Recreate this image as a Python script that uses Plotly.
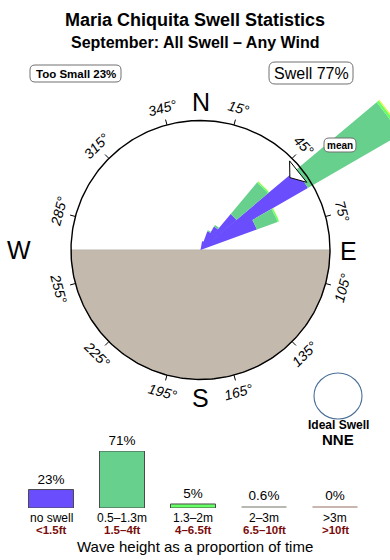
import numpy as np
import plotly.graph_objects as go

# ---------------- data ----------------
# swell-rose direction bins (bearing of bin centre, degrees) and stacked segment lengths
dir_centers = [15, 25, 35, 45, 55, 65]
bin_width = 10
seg_no_swell = [9, 20, 27, 47, 124, 60]      # <0.5 m
seg_small = [0, 1, 2, 41, 106, 22]            # 0.5-1.3 m
seg_mid = [0, 0, 0, 1.5, 2.5, 1.5]            # 1.3-2 m
seg_big = [0, 0, 0, 0.5, 1.2, 0.5]            # 2-3 m
mean_dir = 51

# wave-height distribution
height_cats = ["no swell", "0.5\u20131.3m", "1.3\u20132m", "2\u20133m", ">3m"]
height_ft = ["<1.5ft", "1.5\u20134ft", "4\u20136.5ft", "6.5\u201310ft", ">10ft"]
height_pct = [23, 71, 5, 0.6, 0]

tick_degs = [15, 45, 75, 105, 135, 165, 195, 225, 255, 285, 315, 345]

title = "Maria Chiquita Swell Statistics"
subtitle = "September: All Swell \u2013 Any Wind"
too_small_txt = "Too Small 23%"
swell_txt = "Swell 77%"
ideal_dir = "NNE"

# ---------------- styling ----------------
W, H = 390, 560
CX, CY = 200.5, 250.0          # rose centre (pixels)
R_CIRCLE = 129.5
FONT = "Liberation Sans, Arial, sans-serif"
C_PURPLE = "#6a4dfc"
C_GREEN = "#66d08c"
C_LIME = "#66ff66"
C_YELLOW = "#e6f24a"
C_LAND = "#c4b9ad"


def pol(r, deg):
    t = np.radians(deg)
    return r * np.sin(t), r * np.cos(t)


def sector(theta_c, r0, r1, width):
    th = np.linspace(theta_c - width / 2, theta_c + width / 2, 16)
    xo, yo = pol(r1, th)
    xi, yi = pol(r0, th[::-1])
    return list(xo) + list(xi) + [None], list(yo) + list(yi) + [None]


fig = go.Figure()

# land half disc (south half)
th_land = np.linspace(90, 270, 181)
lx, ly = pol(R_CIRCLE, th_land)
fig.add_trace(go.Scatter(x=list(lx) + [lx[0]], y=list(ly) + [ly[0]], fill="toself",
                         fillcolor=C_LAND, mode="lines", line=dict(color="#b9b3ab", width=1),
                         hoverinfo="skip", showlegend=False))

# stacked wedges
layers = [(seg_no_swell, C_PURPLE), (seg_small, C_GREEN), (seg_mid, C_LIME), (seg_big, C_YELLOW)]
base = np.zeros(len(dir_centers))
for seg, col in layers:
    xs, ys = [], []
    for i, d in enumerate(dir_centers):
        if seg[i] > 0:
            sx, sy = sector(d, base[i], base[i] + seg[i], bin_width)
            xs += sx
            ys += sy
    base = base + np.array(seg, dtype=float)
    if xs:
        fig.add_trace(go.Scatter(x=xs, y=ys, fill="toself", fillcolor=col, mode="lines",
                                 line=dict(width=0, color=col), hoverinfo="skip", showlegend=False))

# circle outline
th_c = np.linspace(0, 360, 361)
cx_, cy_ = pol(R_CIRCLE, th_c)
fig.add_trace(go.Scatter(x=cx_, y=cy_, mode="lines", line=dict(color="black", width=1.4),
                         hoverinfo="skip", showlegend=False))

# tick marks
tx, ty = [], []
for d in tick_degs:
    x0, y0 = pol(R_CIRCLE, d)
    x1, y1 = pol(R_CIRCLE + 5.5, d)
    tx += [x0, x1, None]
    ty += [y0, y1, None]
fig.add_trace(go.Scatter(x=tx, y=ty, mode="lines", line=dict(color="black", width=1),
                         hoverinfo="skip", showlegend=False))

# mean arrow
ax_, ay_ = [], []
for r, d in [(115, mean_dir), (126, mean_dir + 6.5), (126, mean_dir - 6), (115, mean_dir)]:
    px, py = pol(r, d)
    ax_.append(px)
    ay_.append(py)
fig.add_trace(go.Scatter(x=ax_, y=ay_, fill="toself", fillcolor="white", mode="lines",
                         line=dict(color="black", width=1), hoverinfo="skip", showlegend=False))

annotations = []
# tick labels
for d in tick_degs:
    px, py = pol(147, d)
    ang = d if (d <= 90 or d >= 270) else d - 180
    if ang > 180:
        ang -= 360
    annotations.append(dict(x=px, y=py, xref="x", yref="y", text=f"{d}\u00b0", showarrow=False,
                            textangle=ang, font=dict(family=FONT, size=14, color="black", style="italic"),
                            xanchor="center", yanchor="middle"))

# compass letters
for txt, (px, py) in [("N", (0, 148)), ("E", (147.5, -1)), ("S", (0, -148)), ("W", (-181.5, 0))]:
    annotations.append(dict(x=px, y=py, xref="x", yref="y", text=txt, showarrow=False,
                            font=dict(family=FONT, size=25, color="black"),
                            xanchor="center", yanchor="middle"))

# rounded boxes
def rounded(x0, y0, x1, y1, r):
    return (f"M{x0+r},{y0} L{x1-r},{y0} Q{x1},{y0} {x1},{y0+r} L{x1},{y1-r} Q{x1},{y1} {x1-r},{y1} "
            f"L{x0+r},{y1} Q{x0},{y1} {x0},{y1-r} L{x0},{y0+r} Q{x0},{y0} {x0+r},{y0} Z")


def px2d(xp, yp):
    return xp - CX, CY - yp


shapes = []
for (xa, ya, xb, yb, rr) in [(30, 65, 121, 82, 5), (269, 62, 353, 84, 6), (324, 138, 356, 152, 5)]:
    dx0, dy0 = px2d(xa, yb)
    dx1, dy1 = px2d(xb, ya)
    shapes.append(dict(type="path", xref="x", yref="y", path=rounded(dx0, dy0, dx1, dy1, rr),
                       line=dict(color="#707070", width=1), fillcolor="white", layer="above"))

# ideal swell circle
ic = px2d(338, 396)
shapes.append(dict(type="circle", xref="x", yref="y", x0=ic[0] - 24, x1=ic[0] + 24,
                   y0=ic[1] - 23, y1=ic[1] + 23, line=dict(color="#4a6f98", width=1.1)))

for txt, (xp, yp), size, bold in [(too_small_txt, (75.5, 73.5), 11.5, True),
                                   (swell_txt, (311, 73), 16, False),
                                   ("mean", (340, 145), 10, True),
                                   ("Ideal Swell", (338, 425), 12, True),
                                   (ideal_dir, (338, 439.5), 15, True)]:
    dx, dy = px2d(xp, yp)
    annotations.append(dict(x=dx, y=dy, xref="x", yref="y", text=txt, showarrow=False,
                            font=dict(family=FONT, size=size, color="black",
                                      weight="bold" if bold else "normal"),
                            xanchor="center", yanchor="middle"))

# titles
annotations.append(dict(x=0.5, y=1 - 20 / H, xref="paper", yref="paper", text=f"<b>{title}</b>",
                        showarrow=False, font=dict(family=FONT, size=18, color="black"),
                        xanchor="center", yanchor="middle"))
annotations.append(dict(x=0.5, y=1 - 43 / H, xref="paper", yref="paper", text=f"<b>{subtitle}</b>",
                        showarrow=False, font=dict(family=FONT, size=16, color="black"),
                        xanchor="center", yanchor="middle"))

# ---------------- wave height bars ----------------
bar_colors = [C_PURPLE, C_GREEN, C_LIME, "#b9b9b1", "#c9b6b0"]
line_w = [1, 1, 1, 0, 0]
display_h = [max(v, 1.8) for v in height_pct]
fig.add_trace(go.Bar(x=height_cats, y=display_h, xaxis="x2", yaxis="y2", width=0.634,
                     marker=dict(color=bar_colors, line=dict(color="#4a4a4a", width=line_w)),
                     text=[f"{v:g}%" for v in height_pct], textposition="outside",
                     textfont=dict(family=FONT, size=13.5, color="black"), cliponaxis=False,
                     hoverinfo="skip", showlegend=False))

for cat, ft in zip(height_cats, height_ft):
    annotations.append(dict(x=cat, y=1 - 517.5 / H, xref="x2", yref="paper", text=cat, showarrow=False,
                            font=dict(family=FONT, size=12, color="black"),
                            xanchor="center", yanchor="middle"))
    annotations.append(dict(x=cat, y=1 - 530 / H, xref="x2", yref="paper", text=f"<b>{ft}</b>",
                            showarrow=False, font=dict(family=FONT, size=11.5, color="#7a0c0c"),
                            xanchor="center", yanchor="middle"))
annotations.append(dict(x=0.5, y=1 - 546 / H, xref="paper", yref="paper",
                        text="Wave height as a proportion of time", showarrow=False,
                        font=dict(family=FONT, size=15, color="black"),
                        xanchor="center", yanchor="middle"))

fig.update_layout(
    width=W, height=H, margin=dict(l=0, r=0, t=0, b=0),
    paper_bgcolor="white", plot_bgcolor="rgba(0,0,0,0)", hovermode=False,
    xaxis=dict(range=[-CX, W - CX], visible=False, domain=[0, 1], fixedrange=True),
    yaxis=dict(range=[CY - H, CY], visible=False, domain=[0, 1], fixedrange=True),
    xaxis2=dict(range=[-0.5, 4.5], visible=False, domain=[15.5 / W, 370.5 / W], anchor="y2",
                type="category", fixedrange=True),
    yaxis2=dict(range=[0, 71], visible=False, domain=[(H - 508) / H, (H - 451) / H], anchor="x2",
                fixedrange=True),
    annotations=annotations, shapes=shapes, bargap=0.366,
)

fig.write_html("out.html", config={"displayModeBar": False})
